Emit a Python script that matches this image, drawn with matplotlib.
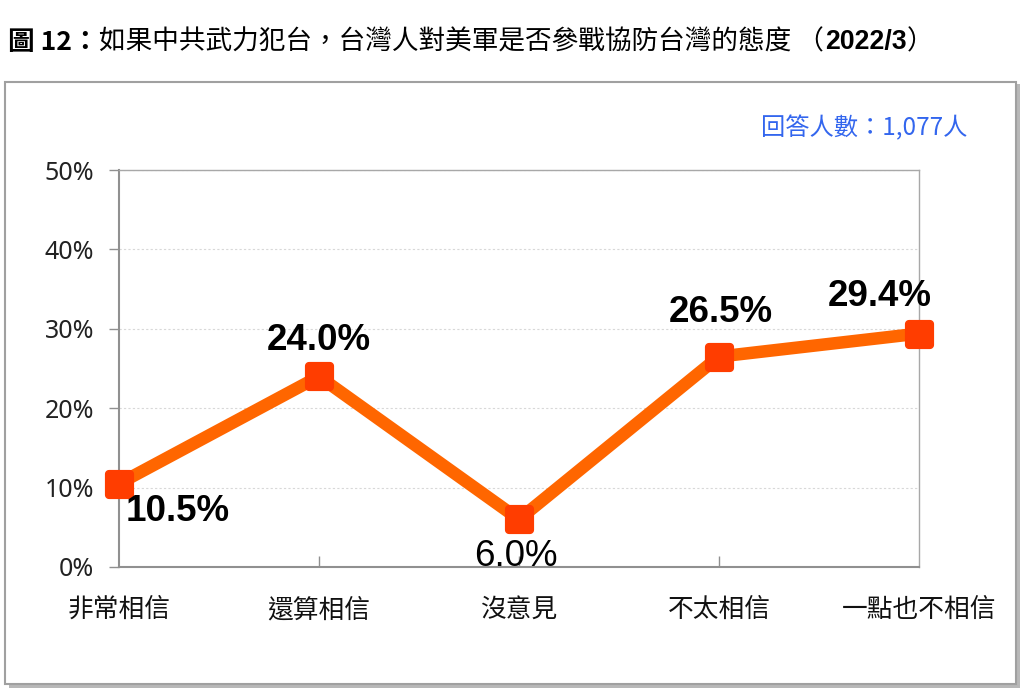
import matplotlib
matplotlib.use("Agg")
import matplotlib.pyplot as plt
from matplotlib.patches import Rectangle
from matplotlib.path import Path
import numpy as np

plt.rcParams['font.family'] = ['Noto Sans CJK TC', 'DejaVu Sans']

categories = ['非常相信', '還算相信', '沒意見', '不太相信', '一點也不相信']
values = [10.5, 24.0, 6.0, 26.5, 29.4]
value_labels = ['10.5%', '24.0%', '6.0%', '26.5%', '29.4%']
yticks = [0, 10, 20, 30, 40, 50]
ytick_labels = ['0%', '10%', '20%', '30%', '40%', '50%']

W, H = 1029, 694
fig = plt.figure(figsize=(W/100, H/100), dpi=100)
fig.patch.set_facecolor('white')

# outer frame with shadow
fig.patches.append(Rectangle((9/W, 1-688/H), 1011/W, 604/H, transform=fig.transFigure,
                             facecolor='#b8b8b8', edgecolor='none', zorder=0))
fig.patches.append(Rectangle((5/W, 1-684/H), 1011/W, 602/H, transform=fig.transFigure,
                             facecolor='white', edgecolor='#a0a0a0', linewidth=1.5, zorder=1))


def rounded_square(r=0.25, n=6):
    verts = []
    corners = [(1 - r, 1 - r, 0), (-1 + r, 1 - r, 90), (-1 + r, -1 + r, 180), (1 - r, -1 + r, 270)]
    for cx, cy, a0 in corners:
        for t in np.linspace(np.radians(a0), np.radians(a0 + 90), n):
            verts.append((cx + r * np.cos(t), cy + r * np.sin(t)))
    verts.append(verts[0])
    codes = [Path.MOVETO] + [Path.LINETO] * (len(verts) - 2) + [Path.CLOSEPOLY]
    return Path(verts, codes)


ax = fig.add_axes([119/W, 1-567/H, 800/W, 397/H])
ax.set_zorder(2)
x = list(range(len(categories)))
ax.plot(x, values, color='#FF6600', linewidth=9, solid_capstyle='round', zorder=3, clip_on=False)
ax.plot(x, values, linestyle='none', marker=rounded_square(), markersize=20, markerfacecolor='#FF3D00',
        markeredgecolor='#FF3D00', markeredgewidth=1, zorder=4, clip_on=False)

ax.set_xlim(0, 4)
ax.set_ylim(0, 50)
ax.set_yticks(yticks)
ax.set_yticklabels(ytick_labels, fontsize=18, color='#222222', family=['Noto Sans', 'DejaVu Sans'])
ax.set_xticks(x[1:4])
ax.set_xticklabels([])
ax.tick_params(axis='x', direction='in', length=8, color='#909090', width=1)
ax.tick_params(axis='y', direction='out', length=7, color='#909090', width=1, pad=11)
for y in yticks[1:]:
    ax.axhline(y, color='#d8d8d8', linewidth=0.8, linestyle=(0, (2, 2)), zorder=1)
for s in ['left', 'bottom']:
    ax.spines[s].set_color('#909090')
    ax.spines[s].set_linewidth(1.5)
for s in ['top', 'right']:
    ax.spines[s].set_color('#a8a8a8')
    ax.spines[s].set_linewidth(1)

# category labels
for i, c in enumerate(categories):
    ax.annotate(c, (i, 0), xytext=(0, -31), textcoords='offset points', ha='center', va='center',
                fontsize=18.5, color='#111111')

# value labels
lab_font = ['Liberation Sans', 'DejaVu Sans']
offsets = [(42, -20), (0, 26), (-2, -27), (1, 32), (-28, 27)]
weights = ['bold', 'bold', 'normal', 'bold', 'bold']
for i, (v, lab) in enumerate(zip(values, value_labels)):
    ax.annotate(lab, (i, v), xytext=offsets[i], textcoords='offset points', ha='center', va='center',
                fontsize=26.5, fontweight=weights[i], color='black', family=lab_font, zorder=5,
                annotation_clip=False)

# title pieces placed sequentially
fig.canvas.draw()
renderer = fig.canvas.get_renderer()
ty = 1 - 42/H
pieces = [
    ('圖 12：', 'bold', ['Noto Sans CJK TC', 'DejaVu Sans'], 0),
    ('如果中共武力犯台，台灣人對美軍是否參戰協防台灣的態度 （', 'normal', ['Noto Sans CJK TC', 'DejaVu Sans'], 2),
    ('2022/3', 'bold', ['Liberation Sans', 'DejaVu Sans'], 0),
    ('）', 'normal', ['Noto Sans CJK TC', 'DejaVu Sans'], 0),
]
cx = 8
for txt, wt, fam, gap in pieces:
    t = fig.text(cx/W, ty, txt, fontsize=19.2, fontweight=wt, ha='left', va='center', family=fam,
                 color='black')
    bb = t.get_window_extent(renderer)
    cx = cx + bb.width + gap

fig.text(967/W, 1-128/H, '回答人數：1,077人', fontsize=17.5, color='#3366EE', ha='right', va='center')

fig.savefig('out.png', dpi=100)
